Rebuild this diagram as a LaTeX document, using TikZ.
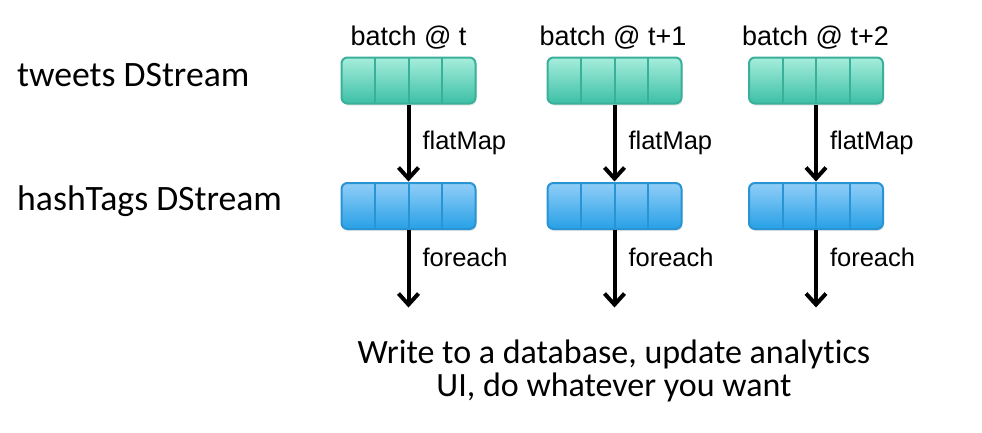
\documentclass[tikz,border=0pt]{standalone}
\usepackage{fontspec}
\setmainfont{Carlito}[Ligatures=NoCommon]
\newfontfamily\arialfont{Liberation Sans}
\usepackage{xcolor}
\usepackage{tikz}
\usetikzlibrary{arrows.meta}
\usetikzlibrary{calc}
\usetikzlibrary{shadows}
\definecolor{tweettop}{HTML}{A6EEDC}
\definecolor{tweetbot}{HTML}{3DBFA6}
\definecolor{tweetline}{HTML}{3AB09A}
\definecolor{tagtop}{HTML}{90CEF8}
\definecolor{tagbot}{HTML}{27A0E6}
\definecolor{tagline}{HTML}{2A93D4}
\tikzset{every edge/.style={shorten >=0.5pt, draw, line width=4pt}}
\tikzset{>={Straight Barb[length=11pt,width=20pt]}}
\tikzset{
  batchbox/.style={draw=#1line, line width=2pt, rounded corners=6pt,
    top color=#1top, bottom color=#1bot,
    minimum width=134pt, minimum height=46pt, inner sep=0pt,
    drop shadow={opacity=0.2, shadow xshift=1pt, shadow yshift=-2pt},
    path picture={
      \foreach \f in {0.25,0.5,0.75}
        \draw[#1line, line width=2pt]
          ($(path picture bounding box.north west)!\f!(path picture bounding box.north east)$) --
          ($(path picture bounding box.south west)!\f!(path picture bounding box.south east)$);
    }},
  oplabel/.style={font=\arialfont\fontsize{25.5}{30}\selectfont, inner sep=0pt, right=12pt},
  timelabel/.style={font=\arialfont\fontsize{27}{32}\selectfont, inner sep=0pt, anchor=base},
  streamlabel/.style={font=\fontsize{35.7}{40}\selectfont, inner sep=0pt, anchor=base west},
}

\begin{document}
\begin{tikzpicture}[x=1pt, y=-1pt]
    \useasboundingbox (0,0) rectangle (982,432);

    % times
    \node[timelabel] at (408.5, 45) (time1) {batch @ t};
    \node[timelabel] at (613, 45) (time2) {batch @ t+1};
    \node[timelabel] at (815.5, 45) (time3) {batch @ t+2};

    % streams
    \node[streamlabel] at (17, 86) (tweets) {tweets DStream};
    \node[streamlabel] at (17, 210) (tags) {hashTags DStream};

    \node[batchbox=tweet] at (408.5, 80.5) (tw1) {};
    \node[batchbox=tweet] at (614.5, 80.5) (tw2) {};
    \node[batchbox=tweet] at (816, 80.5) (tw3) {};
    \node[batchbox=tag] at (408.5, 206) (ht1) {};
    \node[batchbox=tag] at (614.5, 206) (ht2) {};
    \node[batchbox=tag] at (816, 206) (ht3) {};

    \coordinate (out1) at (408.5, 308);
    \coordinate (out2) at (614.5, 308);
    \coordinate (out3) at (816, 308);

    \draw (tw1) edge[->] node[oplabel] {flatMap} (ht1);
    \draw (tw2) edge[->] node[oplabel] {flatMap} (ht2);
    \draw (tw3) edge[->] node[oplabel] {flatMap} (ht3);
    \draw (ht1) edge[->] node[oplabel, pos=0.35] {foreach} (out1);
    \draw (ht2) edge[->] node[oplabel, pos=0.35] {foreach} (out2);
    \draw (ht3) edge[->] node[oplabel, pos=0.35] {foreach} (out3);

    % sortie
    \node[font=\fontsize{34}{37}\selectfont, inner sep=0pt, anchor=base] at (614, 363) (sink1) {Write to a database, update analytics};
    \node[font=\fontsize{34}{37}\selectfont, inner sep=0pt, anchor=base] at (614, 396) (sink2) {UI, do whatever you want};
\end{tikzpicture}
\end{document}
